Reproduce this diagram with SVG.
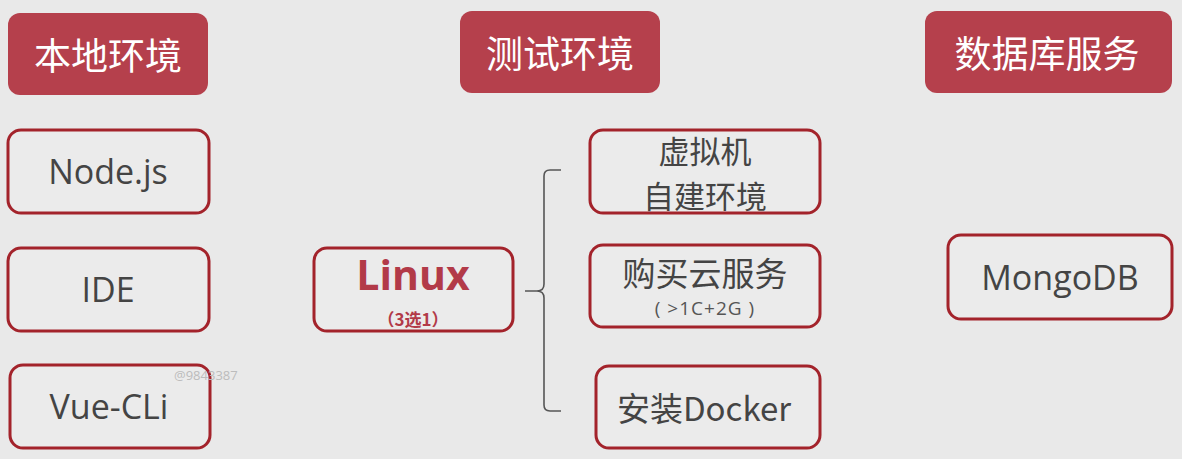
<svg xmlns="http://www.w3.org/2000/svg" width="1182" height="459" viewBox="0 0 1182 459">
<style>
.hd rect{fill:#b5404c;}
.hd text{fill:#ffffff;font-family:"Noto Sans CJK SC","Open Sans",sans-serif;font-size:37px;text-anchor:middle;dominant-baseline:central;}
.nd rect{fill:#ebebeb;stroke:#a3232b;stroke-width:3;}
.nd text{fill:#444444;font-family:"Open Sans","Noto Sans CJK SC",sans-serif;font-size:34px;text-anchor:middle;dominant-baseline:central;}
.nd text.cjk{font-family:"Noto Sans CJK SC",sans-serif;font-size:33px;}
.nd text.sm{font-size:19px;fill:#555555;letter-spacing:1px;}
.nd text.red{fill:#b23a48;font-weight:bold;}
.conn path{fill:none;stroke:#555555;stroke-width:1.6;}
</style>
<rect width="1182" height="459" fill="#e9e9e9"/>
<g id="h-local" class="hd"><rect x="8" y="13" width="200" height="82" rx="12"/><text x="108" y="54">本地环境</text></g>
<g id="h-test" class="hd"><rect x="460" y="11" width="200" height="82" rx="12"/><text x="560" y="52">测试环境</text></g>
<g id="h-db" class="hd"><rect x="925" y="11" width="247" height="82" rx="12"/><text x="1047" y="52">数据库服务</text></g>
<g id="n-node" class="nd"><rect x="8" y="130" width="201" height="83" rx="13"/><text x="108" y="171">Node.js</text></g>
<g id="n-ide" class="nd"><rect x="8" y="248" width="201" height="83" rx="13"/><text x="108" y="289">IDE</text></g>
<g id="n-vue" class="nd"><rect x="10" y="365" width="200" height="83" rx="13"/><text x="109" y="406">Vue-CLi</text></g>
<g id="n-linux" class="nd"><rect x="314" y="248" width="199" height="83" rx="13"/><text class="red" x="413" y="274" style="font-size:41px">Linux</text><text class="red cjk" x="413" y="318" style="font-size:17px">（3选1）</text></g>
<g id="n-vm" class="nd"><rect x="590" y="130" width="230" height="83" rx="13"/><text class="cjk" x="705" y="149" style="font-size:31px">虚拟机<tspan x="705" dy="45">自建环境</tspan></text></g>
<g id="n-cloud" class="nd"><rect x="590" y="245" width="230" height="82" rx="13"/><text class="cjk" x="705" y="272">购买云服务</text><text class="sm" x="705" y="308">( &gt;1C+2G )</text></g>
<g id="n-docker" class="nd"><rect x="596" y="366" width="224" height="82" rx="13"/><text class="cjk" x="704" y="407">安装Docker</text></g>
<g id="n-mongo" class="nd"><rect x="948" y="235" width="224" height="84" rx="13"/><text x="1060" y="277">MongoDB</text></g>
<g id="connectors" class="conn">
<path d="M561,170 L550,170 Q544,170 544,176 L544,284 Q544,291 537,291 L525,291 M537,291 Q544,291 544,298 L544,405 Q544,411 550,411 L561,411"/>
</g>
<text x="174" y="380" font-family="Open Sans,sans-serif" font-size="13" fill="#bcbcbc">@9843387</text>
</svg>
